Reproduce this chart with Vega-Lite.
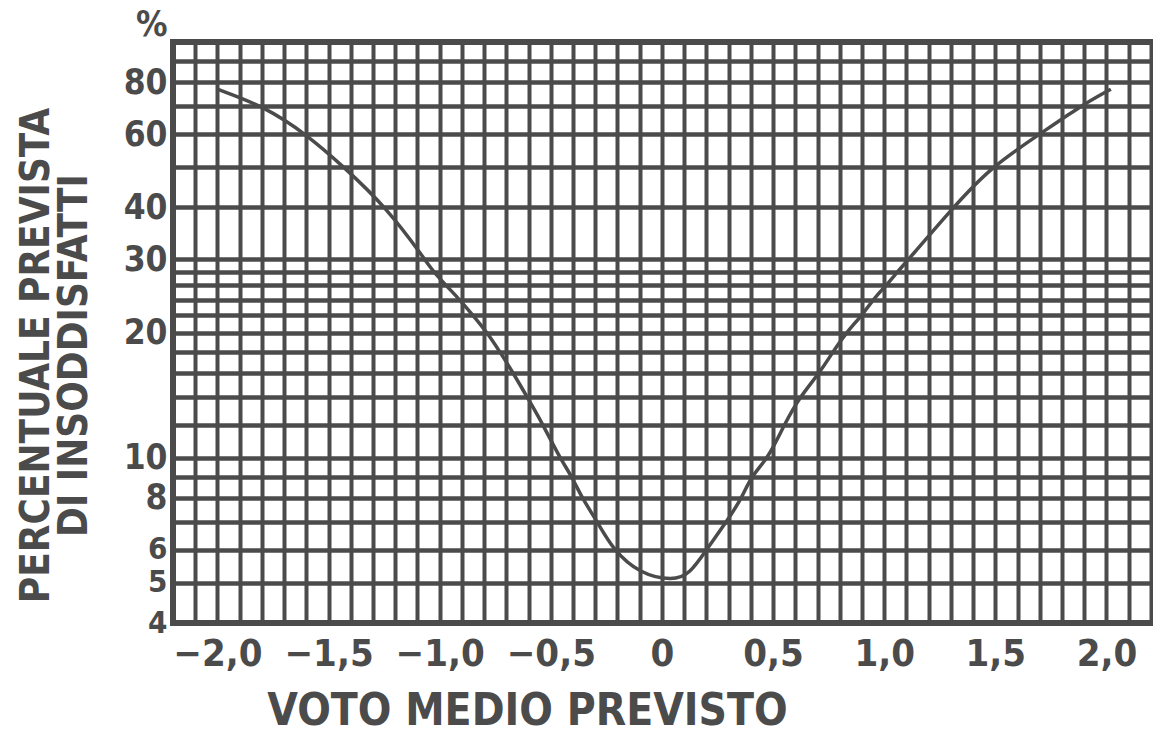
{
  "$schema": "https://vega.github.io/schema/vega-lite/v6.json",
  "autosize": "none",
  "padding": {"left": 173, "top": 42, "right": 0, "bottom": 112},
  "width": 989,
  "height": 581,
  "background": "#ffffff",
  "view": {"stroke": "#4b4b4b", "strokeWidth": 6, "fill": "#ffffff"},
  "config": {
    "font": "DejaVu Sans Condensed",
    "axis": {"labelFont": "DejaVu Sans Condensed", "titleFont": "DejaVu Sans Condensed"}
  },
  "data": {
    "values": [
      {"pmv": -2.0, "ppd": 77},
      {"pmv": -1.79, "ppd": 70},
      {"pmv": -1.6, "ppd": 60},
      {"pmv": -1.43, "ppd": 50},
      {"pmv": -1.24, "ppd": 40},
      {"pmv": -1.066, "ppd": 30},
      {"pmv": -1.03, "ppd": 28},
      {"pmv": -0.91, "ppd": 24},
      {"pmv": -0.85, "ppd": 22},
      {"pmv": -0.787, "ppd": 20},
      {"pmv": -0.73, "ppd": 18},
      {"pmv": -0.67, "ppd": 16},
      {"pmv": -0.607, "ppd": 14},
      {"pmv": -0.535, "ppd": 12},
      {"pmv": -0.46, "ppd": 10},
      {"pmv": -0.405, "ppd": 9},
      {"pmv": -0.36, "ppd": 8},
      {"pmv": -0.29, "ppd": 7},
      {"pmv": -0.22, "ppd": 6},
      {"pmv": -0.1, "ppd": 5.25},
      {"pmv": 0.05, "ppd": 5.05},
      {"pmv": 0.126, "ppd": 5.25},
      {"pmv": 0.2, "ppd": 6},
      {"pmv": 0.29, "ppd": 7},
      {"pmv": 0.36, "ppd": 8},
      {"pmv": 0.4, "ppd": 9},
      {"pmv": 0.48, "ppd": 10},
      {"pmv": 0.55, "ppd": 12},
      {"pmv": 0.62, "ppd": 14},
      {"pmv": 0.71, "ppd": 16},
      {"pmv": 0.77, "ppd": 18},
      {"pmv": 0.83, "ppd": 20},
      {"pmv": 0.9, "ppd": 22},
      {"pmv": 0.95, "ppd": 24},
      {"pmv": 1.01, "ppd": 26},
      {"pmv": 1.06, "ppd": 28},
      {"pmv": 1.11, "ppd": 30},
      {"pmv": 1.31, "ppd": 40},
      {"pmv": 1.48, "ppd": 50},
      {"pmv": 1.7, "ppd": 60},
      {"pmv": 1.88, "ppd": 70},
      {"pmv": 2.02, "ppd": 77}
    ]
  },
  "mark": {"type": "line", "color": "#4b4b4b", "strokeWidth": 3.5, "interpolate": "basis", "clip": true},
  "encoding": {
    "x": {
      "field": "pmv",
      "type": "quantitative",
      "scale": {"domain": [-2.2, 2.25], "nice": false, "zero": false},
      "axis": {
        "values": [-2.2, -2.1, -2.0, -1.9, -1.8, -1.7, -1.6, -1.5, -1.4, -1.3, -1.2, -1.1, -1.0, -0.9, -0.8, -0.7, -0.6, -0.5, -0.4, -0.3, -0.2, -0.1, 0, 0.1, 0.2, 0.3, 0.4, 0.5, 0.6, 0.7, 0.8, 0.9, 1.0, 1.1, 1.2, 1.3, 1.4, 1.5, 1.6, 1.7, 1.8, 1.9, 2.0, 2.1, 2.2],
        "labelExpr": "abs(round(datum.value*10)) % 5 == 0 ? (round(datum.value*10) == 0 ? '0' : replace(format(datum.value, '.1f'), '.', ',')) : ''",
        "labelOverlap": false,
        "labelBound": false,
        "labelFlush": false,
        "labelFontSize": 38,
        "labelFontWeight": "bold",
        "labelColor": "#4b4b4b",
        "labelPadding": 12,
        "ticks": false,
        "domain": false,
        "grid": true,
        "gridColor": "#4b4b4b",
        "gridWidth": 4,
        "gridOpacity": 1,
        "title": "VOTO  MEDIO PREVISTO",
        "titleFontSize": 44,
        "titleFontWeight": "bold",
        "titleColor": "#4b4b4b",
        "titleX": 354,
        "titleY": 88,
        "titleAlign": "center",
        "titleBaseline": "middle",
        "titleAnchor": null
      }
    },
    "y": {
      "field": "ppd",
      "type": "quantitative",
      "scale": {"type": "log", "domain": [4, 100], "nice": false, "zero": false},
      "axis": {
        "values": [4, 5, 6, 7, 8, 9, 10, 12, 14, 16, 18, 20, 22, 24, 26, 28, 30, 40, 50, 60, 70, 80, 90, 100],
        "labelExpr": "datum.value == 100 ? '%' : (indexof([4, 5, 6, 8, 10, 20, 30, 40, 60, 80], datum.value) >= 0 ? '' + datum.value : '')",
        "labelOverlap": false,
        "labelBound": false,
        "labelFlush": false,
        "labelFontSize": {"condition": {"test": "datum.value <= 6", "value": 31}, "value": 35},
        "labelFontWeight": "bold",
        "labelColor": "#4b4b4b",
        "labelPadding": 6,
        "labelBaseline": {"condition": {"test": "datum.value == 100", "value": "bottom"}, "value": "middle"},
        "ticks": false,
        "domain": false,
        "grid": true,
        "gridColor": "#4b4b4b",
        "gridWidth": 4.5,
        "gridOpacity": 1,
        "title": ["PERCENTUALE PREVISTA", "DI INSODDISFATTI"],
        "titleFontSize": 40,
        "titleFontWeight": "bold",
        "titleColor": "#4b4b4b",
        "titleLineHeight": 38,
        "titleAngle": -90,
        "titleX": -137,
        "titleY": 313,
        "titleAlign": "center",
        "titleBaseline": "middle",
        "titleAnchor": null
      }
    }
  }
}
